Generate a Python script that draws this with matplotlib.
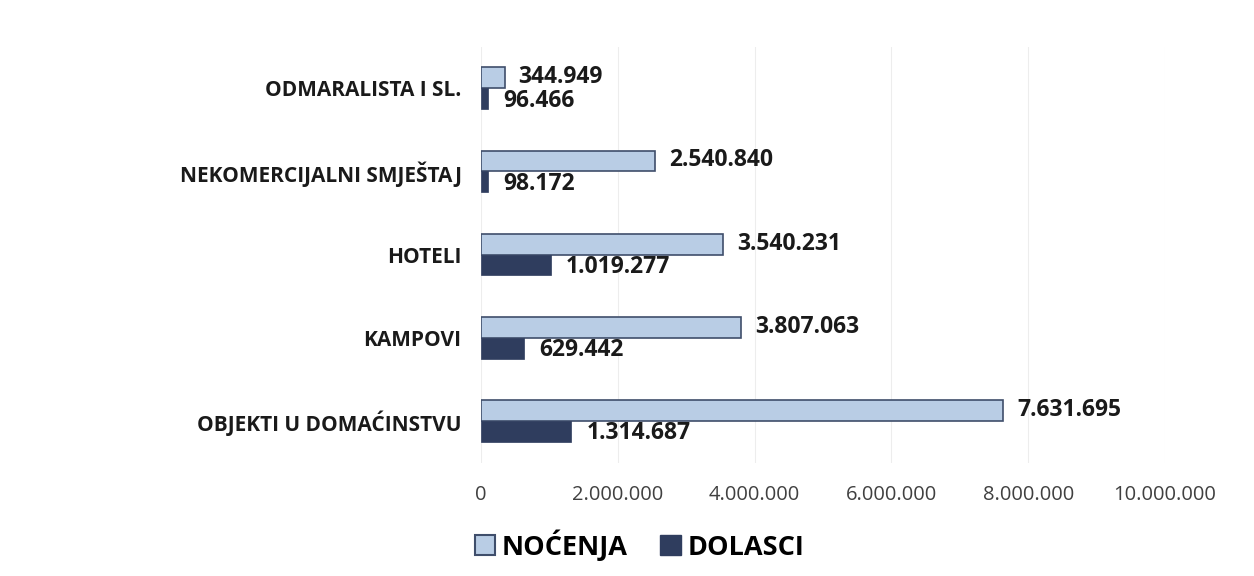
import matplotlib.pyplot as plt
import matplotlib.ticker as mticker
from matplotlib.patches import Patch

categories = ["OBJEKTI U DOMAĆINSTVU", "KAMPOVI", "HOTELI",
              "NEKOMERCIJALNI SMJEŠTAJ", "ODMARALISTA I SL."]
nocenja = [7631695, 3807063, 3540231, 2540840, 344949]
dolasci = [1314687, 629442, 1019277, 98172, 96466]

light = "#B9CDE5"
light_edge = "#3F4E6B"
dark = "#2F3D5E"
text_col = "#1A1A1A"

plt.rcParams["font.family"] = ["Open Sans", "DejaVu Sans"]


def fmt(v):
    return f"{v:,.0f}".replace(",", ".")


fig = plt.figure(figsize=(12.54, 5.76), dpi=100)
ax = fig.add_axes([0.3836, 0.197, 0.5455, 0.722])

y = list(range(len(categories)))
h = 0.25
ax.barh([i + h / 2 for i in y], nocenja, height=h, color=light,
        edgecolor=light_edge, linewidth=1.2, zorder=3)
ax.barh([i - h / 2 for i in y], dolasci, height=h, color=dark,
        edgecolor=dark, linewidth=0.5, zorder=3)

# value labels, Excel style "outside end"
for i in y:
    ax.annotate(fmt(nocenja[i]), (nocenja[i], i + h / 2), xytext=(10, 0.5),
                textcoords="offset points", va="center", ha="left",
                fontsize=16.5, fontweight="bold", color=text_col)
    ax.annotate(fmt(dolasci[i]), (dolasci[i], i - h / 2), xytext=(11, -1.5),
                textcoords="offset points", va="center", ha="left",
                fontsize=16.5, fontweight="bold", color=text_col)

ax.set_xlim(0, 10000000)
ax.set_ylim(-0.5, len(categories) - 0.5)
ax.xaxis.set_major_locator(mticker.MultipleLocator(2000000))
ax.xaxis.set_major_formatter(mticker.FuncFormatter(lambda v, p: fmt(v)))
ax.set_yticks(y)
ax.set_yticklabels(categories, fontsize=15, fontweight="bold", color=text_col)
ax.tick_params(axis="y", length=0, pad=14)
ax.tick_params(axis="x", length=0, pad=16, labelsize=14.5, colors="#404040")
ax.grid(True, axis="x", color="#EDEDED", linewidth=0.8, zorder=0)
for s in ax.spines.values():
    s.set_visible(False)

handles = [Patch(facecolor=light, edgecolor=light_edge, linewidth=1.5, label="NOĆENJA"),
           Patch(facecolor=dark, edgecolor=dark, label="DOLASCI")]
fig.legend(handles=handles, loc="center", bbox_to_anchor=(0.51, 0.054), ncol=2,
           frameon=False, prop={"size": 19.5, "weight": "bold"},
           handlelength=0.75, handleheight=0.75, handletextpad=0.25, columnspacing=1.2)

fig.savefig("out.png", dpi=100)
